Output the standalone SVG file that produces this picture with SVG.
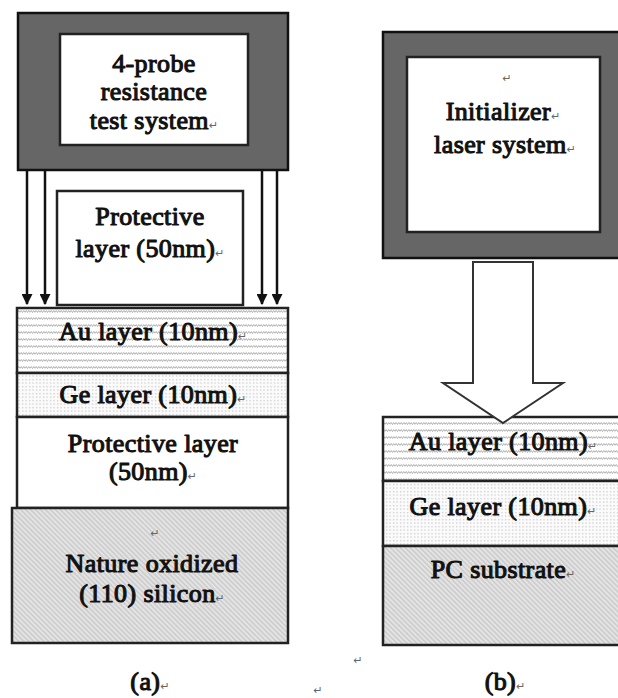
<svg xmlns="http://www.w3.org/2000/svg" width="618" height="698" viewBox="0 0 618 698">
<style>
.t{font-family:"Liberation Serif","Times New Roman",Times,serif;font-weight:normal;font-size:26px;letter-spacing:0.4px;fill:#111;stroke:#111;stroke-width:1.1;stroke-linejoin:round;text-anchor:middle}
.pm{font-family:"DejaVu Sans",sans-serif;font-weight:normal;font-size:11px;letter-spacing:0;fill:#666;stroke:none}
.outer{fill:#666;stroke:#111;stroke-width:2.5}
.inner{fill:#fff;stroke:#222;stroke-width:2.5}
.box{stroke:#222;stroke-width:2.5}
.wire{stroke:#111;stroke-width:2.5;fill:none}
</style>
<defs>
<pattern id="wave" width="5" height="7" patternUnits="userSpaceOnUse">
<rect width="5" height="7" fill="#fff"/>
<path d="M0,4.5 L1.25,2.5 L2.5,4.5 L3.75,2.5 L5,4.5" stroke="#a8a8a8" stroke-width="0.9" fill="none"/>
</pattern>
<pattern id="dots" width="3.5" height="3.5" patternUnits="userSpaceOnUse">
<rect width="3.5" height="3.5" fill="#fbfbfb"/>
<rect x="1" y="1" width="1.2" height="1.2" fill="#c0c0c0"/>
</pattern>
<pattern id="hatch" width="3.5" height="3.5" patternUnits="userSpaceOnUse" patternTransform="rotate(-45)">
<rect width="3.5" height="3.5" fill="#e4e4e4"/>
<line x1="0.8" y1="0" x2="0.8" y2="3.5" stroke="#c4c4c4" stroke-width="1.2"/>
</pattern>
<marker id="ah" viewBox="0 0 10 10" refX="9" refY="5" markerWidth="4.4" markerHeight="4.4" orient="auto" markerUnits="strokeWidth">
<path d="M0,0 L10,5 L0,10 Z" fill="#111"/>
</marker>
</defs>

<g id="probe-system">
<rect class="outer" x="18" y="13" width="270" height="157"/>
<rect class="inner" x="60" y="34" width="188" height="111"/>
<text class="t" x="154" y="72">4-probe</text>
<text class="t" x="154" y="100">resistance</text>
<text class="t" x="154" y="129">test system<tspan class="pm">↵</tspan></text>
</g>

<g id="protective-top">
<rect class="box" fill="#fff" x="57" y="191" width="186" height="114"/>
<text class="t" x="150" y="225">Protective</text>
<text class="t" x="150" y="257">layer (50nm)<tspan class="pm">↵</tspan></text>
</g>

<g id="au-layer-a">
<rect class="box" fill="url(#wave)" x="17" y="308" width="271" height="65"/>
<text class="t" x="153" y="340">Au layer (10nm)<tspan class="pm">↵</tspan></text>
</g>

<g id="ge-layer-a">
<rect class="box" fill="url(#dots)" x="17" y="373" width="271" height="44"/>
<text class="t" x="153" y="403">Ge layer (10nm)<tspan class="pm">↵</tspan></text>
</g>

<g id="protective-bottom">
<rect class="box" fill="#fff" x="17" y="417" width="271" height="91"/>
<text class="t" x="153" y="452">Protective layer</text>
<text class="t" x="153" y="480">(50nm)<tspan class="pm">↵</tspan></text>
</g>

<g id="silicon">
<rect class="box" fill="url(#hatch)" x="12" y="508" width="276" height="135"/>
<text class="pm" x="155" y="537" text-anchor="middle">↵</text>
<text class="t" x="152" y="572">Nature oxidized</text>
<text class="t" x="152" y="602">(110) silicon<tspan class="pm">↵</tspan></text>
</g>

<g id="label-a">
<text class="t" x="150" y="690">(a)<tspan class="pm">↵</tspan></text>
</g>

<g id="laser-system">
<rect class="outer" x="383" y="32" width="250" height="226"/>
<rect class="inner" x="407" y="57" width="193" height="175"/>
<text class="pm" x="507" y="82" text-anchor="middle">↵</text>
<text class="t" x="503" y="120">Initializer<tspan class="pm">↵</tspan></text>
<text class="t" x="505" y="153">laser system<tspan class="pm">↵</tspan></text>
</g>

<g id="au-layer-b">
<rect class="box" fill="url(#wave)" x="383" y="417" width="250" height="64"/>
<text class="t" x="503" y="450">Au layer (10nm)<tspan class="pm">↵</tspan></text>
</g>

<g id="ge-layer-b">
<rect class="box" fill="url(#dots)" x="383" y="481" width="250" height="65"/>
<text class="t" x="503" y="515">Ge layer (10nm)<tspan class="pm">↵</tspan></text>
</g>

<g id="pc-substrate">
<rect class="box" fill="url(#hatch)" x="383" y="546" width="250" height="99"/>
<text class="t" x="503" y="578">PC substrate<tspan class="pm">↵</tspan></text>
</g>

<g id="label-b">
<text class="t" x="505" y="690">(b)<tspan class="pm">↵</tspan></text>
</g>

<g id="marks">
<text class="pm" x="358" y="664" text-anchor="middle">↵</text>
<text class="pm" x="318" y="694" text-anchor="middle">↵</text>
</g>

<g id="connectors">
<line class="wire" x1="27" y1="170" x2="27" y2="304" marker-end="url(#ah)"/>
<line class="wire" x1="45" y1="170" x2="45" y2="304" marker-end="url(#ah)"/>
<line class="wire" x1="262" y1="170" x2="262" y2="304" marker-end="url(#ah)"/>
<line class="wire" x1="277" y1="170" x2="277" y2="304" marker-end="url(#ah)"/>
<polygon points="473,262 533,262 533,383 563,383 503,423 443,383 473,383" fill="#fff" stroke="#333" stroke-width="2"/>
</g>
</svg>
